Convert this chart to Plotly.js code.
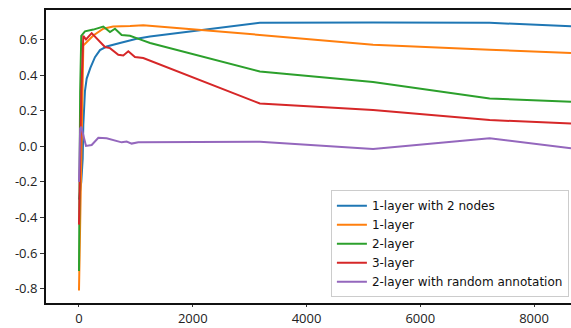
<!DOCTYPE html>
<html>
<head>
<meta charset="utf-8">
<script src="https://cdn.plot.ly/plotly-3.0.1.min.js"></script>
<style>html,body{margin:0;padding:0;background:#fff;}#chart{width:571px;height:328px;}</style>
</head>
<body>
<div id="chart"></div>
<script>
// Series names
var seriesNames = ["1-layer with 2 nodes", "1-layer", "2-layer", "3-layer", "2-layer with random annotation"];

// 1-layer with 2 nodes
var xBlue = [0, 40, 65, 76, 105, 135, 200, 281, 369, 486, 720, 1014, 1248, 3180, 5170, 7220, 8650];
var yBlue = [-0.30, -0.20, -0.07, 0.12, 0.31, 0.38, 0.44, 0.50, 0.54, 0.56, 0.58, 0.603, 0.616, 0.693, 0.695, 0.693, 0.674];

// 1-layer
var xOrange = [0, 76, 120, 252, 427, 600, 900, 1130, 3180, 5170, 7220, 8650];
var yOrange = [-0.81, 0.566, 0.58, 0.622, 0.66, 0.672, 0.675, 0.68, 0.625, 0.57, 0.542, 0.523];

// 2-layer
var xGreen = [0, 20, 40, 105, 252, 427, 545, 633, 750, 896, 1072, 1250, 3180, 5170, 7220, 8650];
var yGreen = [-0.70, 0.30, 0.62, 0.645, 0.655, 0.672, 0.641, 0.66, 0.625, 0.62, 0.60, 0.58, 0.42, 0.361, 0.268, 0.25];

// 3-layer
var xRed = [0, 40, 76, 123, 223, 340, 457, 545, 691, 779, 867, 984, 1130, 3180, 5170, 7220, 8650];
var yRed = [-0.44, 0.30, 0.62, 0.60, 0.635, 0.594, 0.557, 0.551, 0.514, 0.51, 0.533, 0.501, 0.495, 0.24, 0.203, 0.147, 0.128];

// 2-layer with random annotation
var xPurple = [0, 20, 40, 64, 123, 223, 340, 486, 633, 750, 838, 926, 1042, 3180, 5170, 7220, 8650];
var yPurple = [-0.20, 0.10, 0.11, 0.083, 0.002, 0.007, 0.048, 0.045, 0.03, 0.022, 0.026, 0.015, 0.022, 0.026, -0.015, 0.045, -0.011];

// Tick labels
var xTickVals = [0, 2000, 4000, 6000, 8000];
var xTickText = ["0", "2000", "4000", "6000", "8000"];
var yTickVals = [-0.8, -0.6, -0.4, -0.2, 0.0, 0.2, 0.4, 0.6];
var yTickText = ["-0.8", "-0.6", "-0.4", "-0.2", "0.0", "0.2", "0.4", "0.6"];

var colors = ["#1f77b4", "#ff7f0e", "#2ca02c", "#d62728", "#9467bd"];
var xs = [xBlue, xOrange, xGreen, xRed, xPurple];
var ys = [yBlue, yOrange, yGreen, yRed, yPurple];

var traces = seriesNames.map(function(n, i){
  return {x: xs[i], y: ys[i], name: n, type: "scatter", mode: "lines",
          line: {color: colors[i], width: 2}};
});

var fontFam = "'Open Sans', Lato, sans-serif";
var layout = {
  width: 571, height: 328,
  margin: {l: 46, r: 0, t: 10, b: 25, pad: 0},
  paper_bgcolor: "#fff", plot_bgcolor: "#fff",
  showlegend: true,
  font: {family: fontFam, size: 13, color: "#222"},
  xaxis: {range: [-580, 8650], tickvals: xTickVals, ticktext: xTickText,
          showgrid: false, zeroline: false, showline: true, mirror: true,
          linecolor: "#111", linewidth: 2, ticks: "outside", ticklen: 2, tickcolor: "#333",
          tickfont: {family: fontFam, size: 13, color: "#222"}},
  yaxis: {range: [-0.88, 0.765], tickvals: yTickVals, ticktext: yTickText,
          showgrid: false, zeroline: false, showline: true, mirror: false,
          linecolor: "#111", linewidth: 2, ticks: "outside", ticklen: 4, tickcolor: "#333",
          tickfont: {family: fontFam, size: 13, color: "#222"}},
  legend: {x: 0.996, y: 0.02, xanchor: "right", yanchor: "bottom",
           bgcolor: "rgba(255,255,255,0.9)", bordercolor: "#ccc", borderwidth: 1,
           font: {family: "'DejaVu Sans', sans-serif", size: 12, color: "#111"}, itemwidth: 30,
           tracegroupgap: 0}
};

Plotly.newPlot("chart", traces, layout, {displayModeBar: false, staticPlot: true});
</script>
</body>
</html>
